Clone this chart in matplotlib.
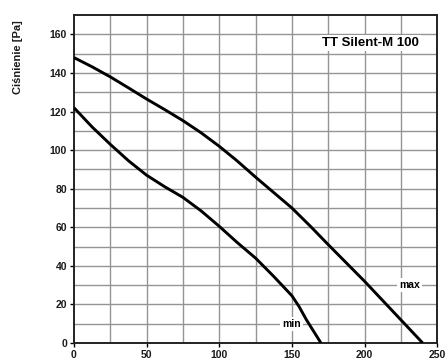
import matplotlib
matplotlib.use("Agg")
import matplotlib.pyplot as plt

# Data
max_x = [0, 12.5, 25, 37.5, 50, 62.5, 75, 87.5, 100, 112.5, 125, 137.5, 150, 162.5, 175, 187.5, 200, 212.5, 225, 240]
max_y = [148, 143.2, 138, 132.3, 126.5, 121, 115.3, 109, 102, 94.3, 86, 78, 70, 60.7, 51, 41.5, 32, 22, 12, 0]
min_x = [0, 12.5, 25, 37.5, 50, 62.5, 75, 87.5, 100, 112.5, 125, 137.5, 145, 150, 155, 160, 165, 170]
min_y = [122, 112, 103, 94.5, 87, 81, 75.5, 68.5, 60.5, 52, 44, 34.5, 28.5, 24.5, 18.8, 12, 6, 0]

x_ticks = [0, 50, 100, 150, 200, 250]
y_ticks = [0, 20, 40, 60, 80, 100, 120, 140, 160]
title = "TT Silent-M 100"
ylabel = "Ciśnienie [Pa]"

plt.rcParams['font.family'] = ['Liberation Sans', 'DejaVu Sans']

fig = plt.figure(figsize=(4.47, 3.61), dpi=100)
ax = fig.add_axes([0.1655, 0.050, 0.8125, 0.908])
ax.set_xlim(0, 250)
ax.set_ylim(0, 170)

# grid
for gx in range(25, 250, 25):
    ax.axvline(gx, color='#949494', lw=1.0, zorder=1)
for gy in range(10, 170, 10):
    ax.axhline(gy, color='#949494', lw=1.0, zorder=1)

ax.plot(max_x, max_y, color='black', lw=2.1, zorder=3, solid_capstyle='butt', solid_joinstyle='round')
ax.plot(min_x, min_y, color='black', lw=2.1, zorder=3, solid_capstyle='butt', solid_joinstyle='round')

ax.set_xticks(x_ticks)
ax.set_yticks(y_ticks)
ax.tick_params(axis='both', direction='out', length=3, width=1, labelsize=7.5, pad=2, colors='black')
for lab in ax.get_xticklabels() + ax.get_yticklabels():
    lab.set_fontweight('bold')
    lab.set_color('#1a1a1a')
for sp in ax.spines.values():
    sp.set_linewidth(1.4)
    sp.set_color('#222222')

bbox = dict(facecolor='white', edgecolor='none', pad=1.5)
ax.text(204, 155.5, title, fontsize=9.5, fontweight='bold', ha='center', va='center', bbox=bbox, zorder=4)
ax.text(231, 30, "max", fontsize=7.5, fontweight='bold', ha='center', va='center', bbox=bbox, zorder=4)
ax.text(150, 10, "min", fontsize=7.5, fontweight='bold', ha='center', va='center', bbox=bbox, zorder=4)

fig.text(18/447, 1 - 57/361, ylabel, rotation=90, fontsize=8, fontweight='bold', ha='center', va='center', color='#1a1a1a')

fig.savefig("out.png", dpi=100)
